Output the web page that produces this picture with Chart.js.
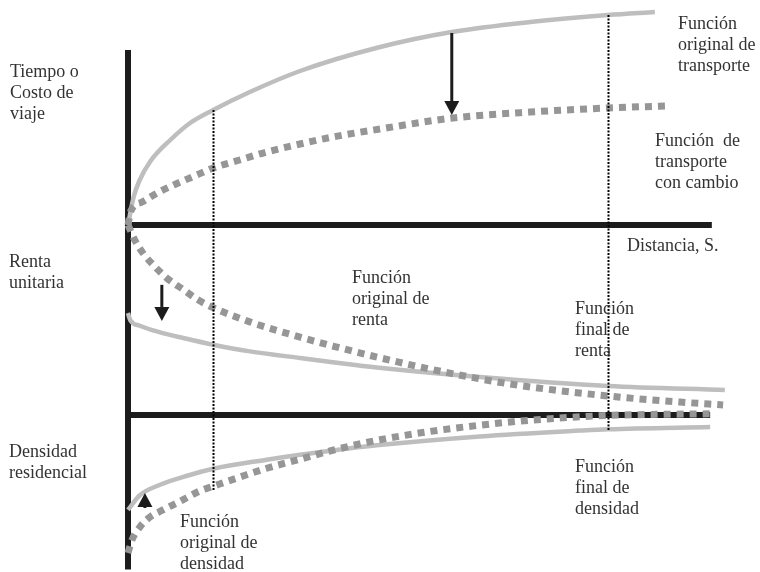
<!DOCTYPE html>
<html lang="es">
<head>
<meta charset="utf-8">
<title>Transporte, renta y densidad</title>
<script src="https://cdn.jsdelivr.net/npm/chart.js@4.4.1/dist/chart.umd.min.js"></script>
<style>
  html, body { margin: 0; padding: 0; background: #fff; }
  #wrap { width: 760px; height: 572px; }
</style>
</head>
<body>
<div id="wrap"><canvas id="chart" width="760" height="572"></canvas></div>
<script>
// Distancia S (eje x, unidades arbitrarias) y valores de cada curva

// Tiempo o costo de viaje
const sTransporteOriginal = [0, 1, 2, 4, 7.5, 11, 15.1, 21.6, 30.5, 44.7, 57.4, 71.3, 85.1, 93.4];
const transporteOriginal = [0, 14, 22, 32, 42.5, 51, 57.5, 66.5, 77, 89, 96.5, 101.5, 105, 106.5];
const sTransporteCambio = [0, 0.5, 2.5, 5.5, 8.5, 12.2, 15.1, 19.8, 24.6, 30.5, 36.3, 44.7, 57.6, 71.3, 85.1, 95.2];
const transporteCambio = [0, 7, 11.5, 16.5, 20.5, 25, 28.5, 32.5, 36.5, 40.5, 44, 48, 53.5, 56.5, 58.5, 59.5];

// Renta unitaria
const sRentaOriginal = [0, 1.2, 2.7, 4.8, 6.9, 9.8, 12.2, 15.1, 21.6, 30.5, 36.3, 42.4, 48, 53.5, 62.4, 70, 85.1, 97.9, 105.5];
const rentaOriginal = [100, 92, 85, 78, 72, 66, 61, 56.5, 49, 41, 36.3, 31.7, 27.8, 24.2, 19, 15.3, 10, 6.8, 5.3];
const sRentaFinal = [0, 0.4, 2.1, 5.7, 9.8, 15.1, 21.6, 30.5, 36.3, 44.1, 62.4, 85.1, 105.8];
const rentaFinal = [53.7, 50, 47, 43.5, 40.5, 37, 33.5, 30, 27.8, 25, 20, 15.3, 13.2];

// Densidad residencial (crece hacia abajo)
const sDensidadFinal = [0, 2.1, 5.7, 10.5, 15.1, 24.6, 30.5, 36.3, 44.1, 62.4, 80.1, 85.1, 103.2];
const densidadFinal = [63.3, 53.5, 46.5, 40.5, 35.8, 29.8, 26.5, 23.6, 20.2, 14.3, 10.4, 9.5, 8];
const sDensidadOriginal = [0, 0.7, 2.1, 3.9, 6.2, 9.0, 12.8, 15.1, 19.9, 24.6, 30.5, 36.3, 44.7, 53.5, 62.4, 71.3, 85.1, 103.2];
const densidadOriginal = [92, 83.3, 74.7, 68, 63.3, 58, 50.5, 47.5, 41.3, 35.5, 29.5, 23.5, 16.5, 11, 6.8, 3.5, 0.3, -0.8];

// Lineas guia punteadas (distancia, tope en transporte, fondo en densidad)
const guiaS = [15.1, 85.1];
const guiaTope = [57.5, 105];
const guiaFondo = [50, 10];

// Flechas de desplazamiento: [eje, distancia, desde, hasta]
const flechas = [
  ['yT', 57.4, 96, 55],
  ['yR', 6, 68.5, 49.5],
  ['yD', 3, 62, 52]
];

// Textos
const textos = [
  { lines: ['Tiempo o', 'Costo de', 'viaje'], x: 10, y: 77 },
  { lines: ['Función', 'original de', 'transporte'], x: 678, y: 29 },
  { lines: ['Función  de', 'transporte', 'con cambio'], x: 655, y: 146 },
  { lines: ['Distancia, S.'], x: 627, y: 251 },
  { lines: ['Renta', 'unitaria'], x: 9, y: 267 },
  { lines: ['Función', 'original de', 'renta'], x: 352, y: 283 },
  { lines: ['Función', 'final de', 'renta'], x: 575, y: 314 },
  { lines: ['Densidad', 'residencial'], x: 9, y: 457 },
  { lines: ['Función', 'original de', 'densidad'], x: 180, y: 527 },
  { lines: ['Función', 'final de', 'densidad'], x: 575, y: 472 }
];

function puntos(xs, ys) {
  return xs.map((s, i) => ({ x: s, y: ys[i] }));
}

const gris = '#bebebe';
const grisOscuro = '#969696';
const negro = '#1c1c1c';

function solida(data, axis) {
  return {
    data: data, yAxisID: axis,
    borderColor: gris, borderWidth: 4.5,
    pointRadius: 0, cubicInterpolationMode: 'monotone', fill: false, clip: false
  };
}
function punteada(data, axis) {
  return {
    data: data, yAxisID: axis,
    borderColor: grisOscuro, borderWidth: 7, borderDash: [7, 6], borderCapStyle: 'butt',
    pointRadius: 0, cubicInterpolationMode: 'monotone', fill: false, clip: false
  };
}

function flecha(ctx, px, y0, y1) {
  const dir = y1 > y0 ? 1 : -1;
  const head = 14;
  ctx.lineWidth = 3;
  ctx.beginPath();
  ctx.moveTo(px, y0);
  ctx.lineTo(px, y1 - dir * head);
  ctx.stroke();
  ctx.beginPath();
  ctx.moveTo(px - 7.5, y1 - dir * head);
  ctx.lineTo(px + 7.5, y1 - dir * head);
  ctx.lineTo(px, y1);
  ctx.closePath();
  ctx.fill();
}

const diagrama = {
  id: 'diagrama',
  beforeDatasetsDraw(chart) {
    const { ctx } = chart;
    const { x, yT, yR, yD } = chart.scales;
    ctx.save();
    ctx.strokeStyle = negro;
    ctx.lineWidth = 6;
    ctx.lineCap = 'butt';
    const x0 = x.getPixelForValue(0);
    ctx.beginPath();
    ctx.moveTo(x0, yT.getPixelForValue(87.5));
    ctx.lineTo(x0, yD.getPixelForValue(103));
    // eje de distancia (transporte) y base de renta
    ctx.moveTo(x0 - 3, yT.getPixelForValue(0));
    ctx.lineTo(x.getPixelForValue(103.5), yT.getPixelForValue(0));
    ctx.moveTo(x0 - 3, yR.getPixelForValue(0));
    ctx.lineTo(x.getPixelForValue(103.2), yR.getPixelForValue(0));
    ctx.stroke();
    ctx.restore();
  },
  afterDatasetsDraw(chart) {
    const { ctx } = chart;
    const { x, yT, yD } = chart.scales;
    ctx.save();
    ctx.strokeStyle = '#000';
    ctx.lineWidth = 2;
    ctx.setLineDash([2, 1.5]);
    guiaS.forEach((s, i) => {
      const px = Math.round(x.getPixelForValue(s)) + 0.5;
      ctx.beginPath();
      ctx.moveTo(px, yT.getPixelForValue(guiaTope[i]));
      ctx.lineTo(px, yD.getPixelForValue(guiaFondo[i]));
      ctx.stroke();
    });
    ctx.setLineDash([]);
    ctx.strokeStyle = negro;
    ctx.fillStyle = negro;
    flechas.forEach(([axis, s, desde, hasta]) => {
      const sc = chart.scales[axis];
      flecha(ctx, x.getPixelForValue(s), sc.getPixelForValue(desde), sc.getPixelForValue(hasta));
    });
    ctx.fillStyle = '#333';
    ctx.font = '18px "Liberation Serif", "DejaVu Serif", serif';
    ctx.textBaseline = 'alphabetic';
    textos.forEach(t => {
      t.lines.forEach((l, i) => ctx.fillText(l, t.x, t.y + i * 21));
    });
    ctx.restore();
  }
};

new Chart(document.getElementById('chart'), {
  type: 'line',
  data: {
    datasets: [
      punteada(puntos(sTransporteCambio, transporteCambio), 'yT'),
      punteada(puntos(sRentaOriginal, rentaOriginal), 'yR'),
      punteada(puntos(sDensidadOriginal, densidadOriginal), 'yD'),
      solida(puntos(sTransporteOriginal, transporteOriginal), 'yT'),
      solida(puntos(sRentaFinal, rentaFinal), 'yR'),
      solida(puntos(sDensidadFinal, densidadFinal), 'yD')
    ]
  },
  options: {
    responsive: false,
    animation: false,
    events: [],
    layout: { padding: 0 },
    plugins: { legend: { display: false }, tooltip: { enabled: false } },
    scales: {
      x: { type: 'linear', min: -22.69, max: 112.04, display: false },
      yT: { type: 'linear', min: -173.5, max: 112.5, display: false },
      yR: { type: 'linear', min: -82.63, max: 218.42, display: false },
      yD: { type: 'linear', min: -276.67, max: 104.67, reverse: true, display: false }
    }
  },
  plugins: [diagrama]
});
</script>
</body>
</html>
